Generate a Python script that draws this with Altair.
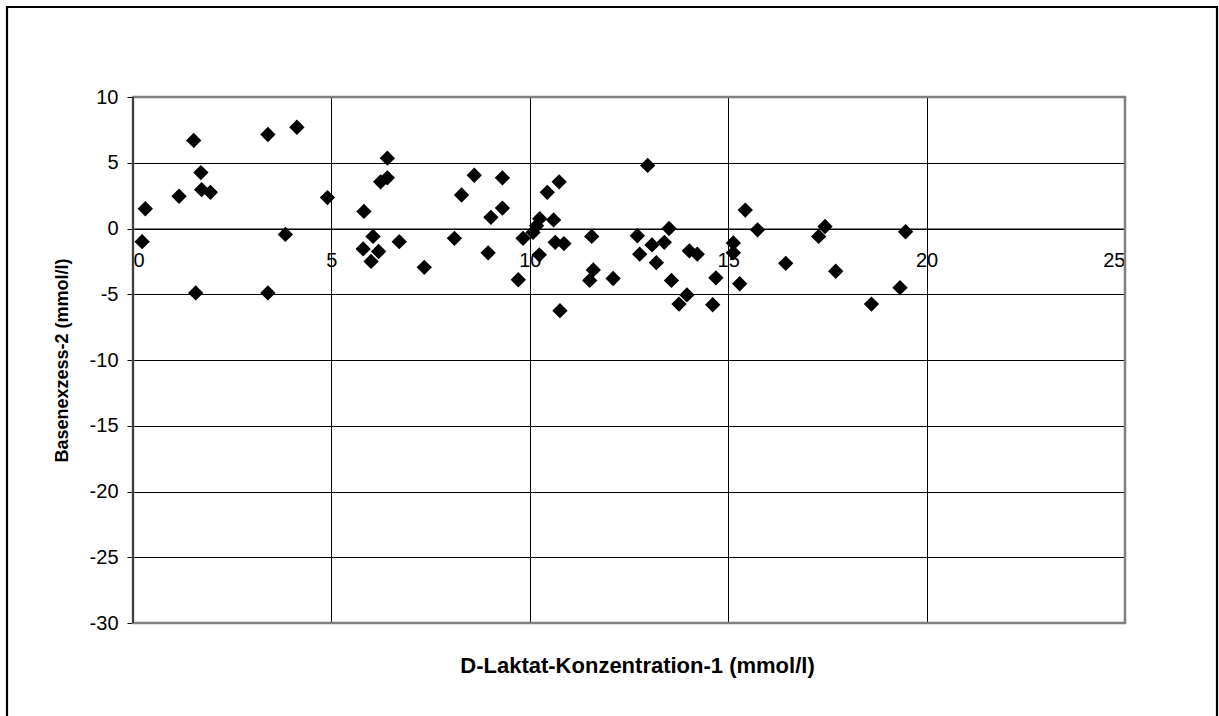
import altair as alt
import pandas as pd

laktat = [0.23, 0.31, 1.16, 1.53, 1.71, 1.73, 1.95, 1.58, 3.40, 4.13,
          3.84, 3.40, 4.90, 5.82, 6.41, 6.24, 6.41, 6.05, 5.80, 6.19,
          6.00, 6.71, 7.34, 8.10, 8.28, 8.60, 9.31, 9.31, 9.02, 8.95,
          9.71, 9.83, 10.08, 10.17, 10.25, 10.60, 10.44, 10.74, 10.24, 10.64,
          10.86, 10.76, 11.56, 11.60, 11.51, 12.10, 12.71, 12.97, 12.77, 13.08,
          13.39, 13.51, 13.19, 13.57, 14.02, 14.22, 13.76, 13.96, 14.69, 14.61,
          15.13, 15.13, 15.29, 15.43, 15.74, 16.45, 17.28, 17.44, 17.71, 18.61,
          19.33, 19.47]
basenexzess = [-1.0, 1.5, 2.45, 6.7, 4.25, 2.95, 2.75, -4.9, 7.15, 7.7,
               -0.45, -4.9, 2.35, 1.3, 5.35, 3.55, 3.85, -0.6, -1.55, -1.75,
               -2.5, -1.0, -2.95, -0.75, 2.55, 4.05, 3.85, 1.55, 0.85, -1.85,
               -3.9, -0.75, -0.3, 0.2, 0.75, 0.65, 2.75, 3.55, -2.0, -1.05,
               -1.15, -6.25, -0.6, -3.15, -3.95, -3.8, -0.55, 4.8, -1.95, -1.25,
               -1.05, 0.0, -2.6, -3.95, -1.7, -1.95, -5.75, -5.05, -3.75, -5.8,
               -1.1, -1.85, -4.2, 1.4, -0.1, -2.65, -0.6, 0.15, -3.25, -5.75,
               -4.5, -0.25]

x_ticks = [0, 5, 10, 15, 20, 25]
y_ticks = [-30, -25, -20, -15, -10, -5, 0, 5, 10]

W, H = 992, 526
FONT = "Liberation Sans"

df = pd.DataFrame({"x": laktat, "y": basenexzess})

x_axis = alt.Axis(
    values=x_ticks, offset=-(H * 30 / 40), tickSize=5, tickColor="black",
    domainColor="black", domainWidth=1, labelPadding=17, labelFontSize=20,
    labelFont=FONT, labelColor="black", grid=True, gridColor="black", gridWidth=1,
    labelExpr="'' + datum.value",
    title="D-Laktat-Konzentration-1 (mmol/l)", titleFont=FONT, titleFontSize=22,
    titleFontWeight="bold", titleColor="black", titleY=437, titleX=504,
    titleBaseline="middle", titleAlign="center",
)
y_axis = alt.Axis(
    values=y_ticks, tickSize=6, tickColor="black", domainColor="black",
    labelPadding=9, labelFontSize=20, labelFont=FONT, labelColor="black",
    labelExpr="'' + datum.value",
    grid=True, gridColor="black", gridWidth=1,
    title="Basenexzess-2 (mmol/l)", titleFont=FONT, titleFontSize=18,
    titleFontWeight="bold", titleColor="black", titleX=-71, titleY=H / 2,
    titleBaseline="middle", titleAlign="center", titleAngle=-90,
)

points = alt.Chart(df).mark_point(
    shape="diamond", filled=True, color="black", size=235, opacity=1
).encode(
    x=alt.X("x:Q", scale=alt.Scale(domain=[0, 25], nice=False), axis=x_axis),
    y=alt.Y("y:Q", scale=alt.Scale(domain=[-30, 10], nice=False), axis=y_axis),
)

one = alt.Data(values=[{}])

border = alt.Chart(one).mark_rect(
    fill=None, fillOpacity=0, stroke="#808080", strokeWidth=2.5
).encode(
    x=alt.value(0), x2=alt.value(W), y=alt.value(0), y2=alt.value(H)
)

left_line = alt.Chart(one).mark_rule(color="black", strokeWidth=1).encode(
    x=alt.value(0), y=alt.value(0), y2=alt.value(H)
)

frame = alt.Chart(one).mark_rect(
    fill=None, fillOpacity=0, stroke="black", strokeWidth=2.2
).encode(
    x=alt.value(7 - 133), x2=alt.value(1217 - 133),
    y=alt.value(7 - 97), y2=alt.value(740 - 97)
)

chart = alt.layer(points, border, left_line, frame).properties(
    width=W, height=H,
    autosize=alt.AutoSizeParams(type="none"),
    padding={"left": 133, "top": 97, "right": 94, "bottom": 93},
    background="white",
).configure_view(stroke=None)

chart.save("out.html", embed_options={"renderer": "svg", "actions": False})
